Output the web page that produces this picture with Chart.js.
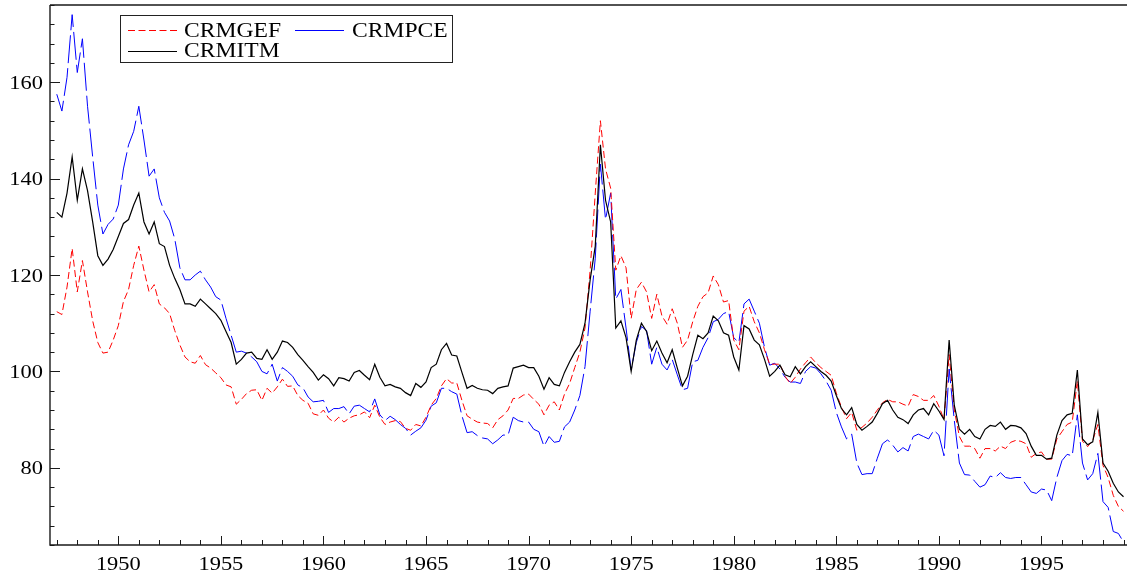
<!DOCTYPE html>
<html>
<head>
<meta charset="utf-8">
<title>CRMGEF, CRMPCE, CRMITM</title>
<script src="https://cdn.jsdelivr.net/npm/chart.js@4.4.1/dist/chart.umd.min.js"></script>
<style>
  html, body { margin: 0; padding: 0; background: #fff; }
  #wrap { width: 1127px; height: 572px; }
</style>
</head>
<body>
<div id="wrap"><canvas id="chart" width="1127" height="572"></canvas></div>
<script>
// quarterly readings, first one is 1947Q1, last one 1999Q1
const firstYear = 1947;

const crmgef = [
  112.4, 111.8, 117.5, 125.5,  // 1947
  116.5, 123, 116.5, 110.5,
  106, 103.8, 104, 106.5,
  109.5, 114.5, 117, 122,      // 1950
  126, 121, 116.5, 118,
  114, 113.2, 112, 108.5,
  105.5, 103, 102, 101.7,
  103.3, 101.4, 100.7, 99.7,
  98.7, 97.2, 96.8, 93.2,      // 1955
  94.2, 95.4, 96.1, 96.2,
  94, 96.5, 95.5, 96.8,
  98.4, 96.9, 97, 95,
  94, 93.4, 91.2, 90.9,
  92, 90.3, 89.5, 90.5,        // 1960
  89.5, 90.3, 90.8, 91,
  91.6, 90.4, 93, 90.5,
  89, 89.5, 89.8, 89.6,
  88.2, 87.8, 89, 88.7,
  90.5, 93, 94.4, 97,          // 1965
  98.5, 97.6, 97.6, 94,
  90.8, 90.1, 89.5, 89.3,
  89.2, 88.3, 90, 90.8,
  92, 94.4, 94.4, 95.1,
  95.3, 94.2, 93.2, 91,        // 1970
  93, 93.7, 92, 95.3,
  97.5, 100.8, 104, 109,
  121, 137, 152, 142,
  138, 121, 124, 121.5,
  111, 117, 118.5, 116.5,      // 1975
  111, 116, 111.5, 109.8,
  113, 110, 105, 106.5,
  110.3, 113.5, 115.5, 116.3,
  119.8, 118, 114.4, 114.7,
  106.5, 104.5, 112.5, 113.5,  // 1980
  110.3, 108, 104.5, 101.5,
  101.5, 101.5, 99, 97.5,
  98.8, 100.5, 101.8, 103,
  101.8, 100.8, 100, 99.2,
  95.5, 92.6, 90.2, 91.5,      // 1985
  87.8, 88.4, 89.3, 90.5,
  92, 93.5, 94.2, 93.7,
  93.7, 93.2, 92.8, 95.2,
  94.8, 94, 94, 95,
  92.8, 90, 103.5, 92,         // 1990
  86.5, 84.5, 84.5, 84,
  82, 84, 84, 83.5,
  84.5, 84, 85.3, 85.7,
  85.5, 85, 82.2, 83,
  83.3, 81.8, 81.8, 86,        // 1995
  87.5, 89, 89.5, 98,
  85.5, 84.4, 85.7, 89,
  80.5, 78, 74.3, 72,
  71
];

const crmpce = [
  157.5, 154, 161, 174,        // 1947
  162, 169, 155, 144.5,
  134.5, 128.5, 130.5, 131.6,
  134.5, 142, 147, 149.8,      // 1950
  155, 148, 140.5, 142,
  136, 133, 131.2, 127.5,
  121.5, 119, 119, 120,
  120.8, 119, 117.5, 115.5,
  114.8, 111, 107.5, 104,      // 1955
  104.2, 103.8, 103, 102,
  100, 99.5, 101.5, 98,
  100.8, 100, 99, 97.2,
  96.6, 94.7, 93.7, 93.8,
  94, 91.5, 92.3, 92.3,        // 1960
  92.7, 91.2, 92.8, 93,
  92.3, 91.6, 94.3, 91,
  89.8, 90.7, 90, 89,
  88.2, 86.8, 87.6, 88.3,
  89.9, 92.8, 93.5, 96.5,      // 1965
  96.5, 95.8, 95.3, 90.8,
  87.3, 87.5, 86.7, 86.2,
  86, 85, 85.8, 86.8,
  86.8, 90.5, 89.8, 89.5,
  89.5, 88, 87.5, 84.5,        // 1970
  86.5, 85.3, 85.5, 88.5,
  89.5, 92, 95, 101,
  112.5, 123.5, 143, 131.5,
  137, 115, 117, 109,
  100.3, 106, 109.3, 108.5,    // 1975
  101.5, 105, 101.5, 100.3,
  102.5, 99.3, 96.2, 96.5,
  102, 102.3, 105, 107,
  110.3, 110.8, 112, 112.4,
  107, 106, 114, 115,          // 1980
  112.5, 110, 105, 101.3,
  101.7, 100.5, 98.8, 97.8,
  97.8, 97.5, 100, 101,
  100.7, 99.5, 98, 96.1,
  91.5, 88.5, 86, 87,          // 1985
  81, 78.6, 78.8, 78.8,
  82, 85, 85.8, 84.7,
  83.3, 84.2, 83.5, 86.5,
  87, 86.5, 86, 87.8,
  86.8, 82.5, 100.5, 89.9,     // 1990
  81, 78.6, 78.5, 77.2,
  76, 76.5, 78.3, 78,
  79, 78, 77.8, 78,
  78, 76.5, 75, 74.7,
  75.6, 75.4, 73.2, 78,        // 1995
  81.5, 82.8, 82.5, 91,
  81, 77.5, 78.8, 83,
  73, 71.8, 66.8, 66.4,
  64.6
];

const crmitm = [
  133, 132, 137, 144.5,        // 1947
  135.5, 142, 137.5, 131,
  124, 122, 123.3, 125.3,
  128, 130.7, 131.5, 134.5,    // 1950
  137, 131, 128.5, 131,
  126.5, 125.9, 122, 119.3,
  117, 114, 114, 113.5,
  115, 114, 113, 112,
  110.6, 108.3, 106, 101.5,    // 1955
  102.5, 103.8, 104, 102.7,
  102.5, 104.5, 102.5, 104,
  106.3, 106, 105, 103.5,
  102.3, 101, 99.8, 98.2,
  99.3, 98.5, 97, 98.7,        // 1960
  98.5, 98, 99.8, 100.2,
  99.2, 98.3, 101.5, 98.8,
  97, 97.3, 96.8, 96.5,
  95.6, 95, 97.5, 96.7,
  97.8, 100.8, 101.5, 104.5,   // 1965
  105.8, 103.4, 103.2, 99.8,
  96.5, 97.1, 96.5, 96.2,
  96.1, 95.4, 96.5, 96.8,
  97, 100.7, 101, 101.3,
  100.8, 100.8, 99, 96.3,      // 1970
  98.7, 97.3, 97, 99.8,
  102, 104, 105.6, 110,
  119, 126, 147, 135.5,
  131, 109, 110.5, 107,
  100, 106.5, 110, 108.3,      // 1975
  104.3, 106.3, 103.8, 101.8,
  104.5, 100.7, 97, 99,
  103.5, 107.5, 106.8, 108,
  111.5, 110.5, 108, 107.5,
  103, 100.3, 109.5, 108.8,    // 1980
  106.5, 105.5, 102.5, 99,
  100, 101.3, 99.3, 98.9,
  101, 99.5, 101, 102,
  101, 100, 99.2, 98,
  95, 92.3, 91, 92.5,          // 1985
  89, 87.8, 88.6, 89.5,
  91.3, 93.3, 94, 92,
  90.5, 90, 89.2, 91,
  92, 92.3, 91, 93.3,
  91.8, 90, 106.5, 93,         // 1990
  88, 87, 88, 86.5,
  86, 88, 88.8, 88.6,
  89.5, 88, 88.8, 88.7,
  88.3, 87.1, 84.5, 82.6,
  82.6, 81.8, 82, 86.8,        // 1995
  89.8, 91, 91.3, 100.3,
  86, 84.8, 85.4, 91.5,
  81, 79.3, 76.8, 75,
  74
];

const yearLabels = [1950, 1955, 1960, 1965, 1970, 1975, 1980, 1985, 1990, 1995];
const valueLabels = [80, 100, 120, 140, 160];

const FONT = '"Liberation Serif", "DejaVu Serif", serif';
const STRETCH = 1.18; // the original type is drawn a bit wide

function toPoints(values) {
  return values.map((v, i) => ({ x: firstYear + i / 4, y: v }));
}

function wideText(ctx, text, x, y, align) {
  ctx.save();
  ctx.translate(x, y);
  ctx.scale(STRETCH, 1);
  ctx.textAlign = align;
  ctx.fillText(text, 0, 0);
  ctx.restore();
}

// axes, inward ticks, labels and the boxed legend
const framePlugin = {
  id: 'frame',
  afterDraw(chart) {
    const ctx = chart.ctx;
    const a = chart.chartArea;
    const xs = chart.scales.x;
    const ys = chart.scales.y;

    ctx.save();
    ctx.strokeStyle = '#1a1a1a';
    ctx.lineWidth = 1.4;
    ctx.beginPath();
    ctx.moveTo(a.left, a.top);
    ctx.lineTo(a.right, a.top);
    ctx.moveTo(a.left, a.top);
    ctx.lineTo(a.left, a.bottom);
    ctx.lineTo(a.right, a.bottom);
    ctx.stroke();

    ctx.lineWidth = 1;
    ctx.beginPath();
    for (let yr = 1947; yr <= 1999; yr++) {
      const px = Math.round(xs.getPixelForValue(yr)) + 0.5;
      const len = yr % 5 === 0 ? 9 : 5;
      ctx.moveTo(px, a.bottom);
      ctx.lineTo(px, a.bottom - len);
    }
    for (let v = 64; v <= 176; v += 4) {
      const py = Math.round(ys.getPixelForValue(v)) + 0.5;
      const len = v % 20 === 0 ? 10 : 4.5;
      ctx.moveTo(a.left, py);
      ctx.lineTo(a.left + len, py);
    }
    ctx.stroke();

    ctx.fillStyle = '#000';
    ctx.font = '19px ' + FONT;
    ctx.textBaseline = 'alphabetic';
    yearLabels.forEach(yr => {
      wideText(ctx, String(yr), xs.getPixelForValue(yr), a.bottom + 25, 'center');
    });
    valueLabels.forEach(v => {
      wideText(ctx, String(v), a.left - 7, ys.getPixelForValue(v) + 6.5, 'right');
    });

    // legend
    ctx.lineWidth = 1;
    ctx.strokeStyle = '#222';
    ctx.strokeRect(120.5, 15.5, 332, 47);

    const rows = [
      { label: 'CRMGEF', color: '#ff0000', dash: [7, 3.5], x: 128, y: 30 },
      { label: 'CRMPCE', color: '#0000ff', dash: [], x: 295, y: 30 },
      { label: 'CRMITM', color: '#000000', dash: [], x: 128, y: 51 }
    ];
    rows.forEach(r => {
      ctx.save();
      ctx.strokeStyle = r.color;
      ctx.setLineDash(r.dash);
      ctx.beginPath();
      ctx.moveTo(r.x, r.y + 0.5);
      ctx.lineTo(r.x + 49, r.y + 0.5);
      ctx.stroke();
      ctx.restore();
    });
    ctx.font = '20px ' + FONT;
    wideText(ctx, 'CRMGEF', 184, 36.5, 'left');
    wideText(ctx, 'CRMPCE', 352, 36.5, 'left');
    wideText(ctx, 'CRMITM', 184, 57, 'left');
    ctx.restore();
  }
};

new Chart(document.getElementById('chart'), {
  type: 'line',
  data: {
    datasets: [
      {
        label: 'CRMITM',
        data: toPoints(crmitm),
        borderColor: '#000000',
        borderWidth: 1.2,
        order: 0
      },
      {
        label: 'CRMGEF',
        data: toPoints(crmgef),
        borderColor: '#ff0000',
        borderWidth: 1,
        borderDash: [7, 3.5],
        order: 1
      },
      {
        label: 'CRMPCE',
        data: toPoints(crmpce),
        borderColor: '#0000ff',
        borderWidth: 1,
        borderDash: [28, 5],
        order: 2
      }
    ]
  },
  options: {
    responsive: false,
    animation: false,
    layout: { padding: { left: 50, top: 5, right: 0, bottom: 27 } },
    elements: {
      point: { radius: 0, hoverRadius: 0 },
      line: { tension: 0 }
    },
    plugins: {
      legend: { display: false },
      tooltip: { enabled: false }
    },
    scales: {
      x: { type: 'linear', min: 1946.67, max: 1999.17, display: false },
      y: { type: 'linear', min: 64, max: 176, display: false }
    }
  },
  plugins: [framePlugin]
});
</script>
</body>
</html>
